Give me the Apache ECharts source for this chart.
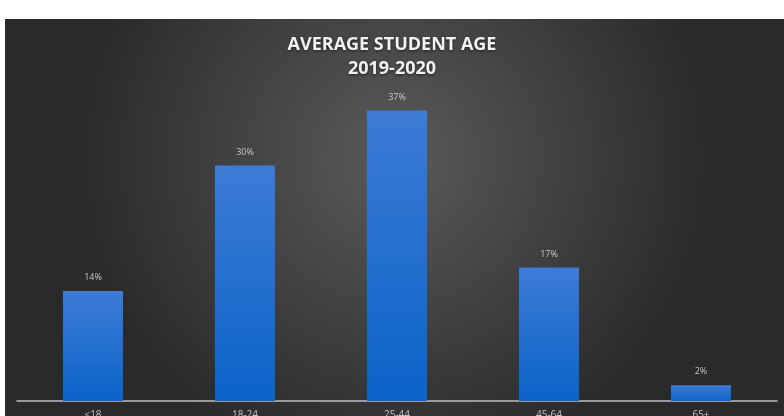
<!DOCTYPE html>
<html>
<head>
<meta charset="utf-8">
<script src="https://cdn.jsdelivr.net/npm/echarts@6/dist/echarts.min.js"></script>
<style>
  html, body { margin: 0; padding: 0; background: #fff; }
  #chart { width: 784px; height: 416px; }
</style>
</head>
<body>
<div id="chart"></div>
<script>
const categories = ['≤18', '18-24', '25-44', '45-64', '65+']
const shares = [14, 30, 37, 17, 2]

const chart = echarts.init(document.getElementById('chart'))

chart.setOption({
  backgroundColor: '#fff',
  animation: false,
  graphic: [{
    type: 'rect',
    shape: { x: 5, y: 19, width: 779, height: 397 },
    style: {
      fill: new echarts.graphic.RadialGradient(0.5, 0.35, 0.8, [
        { offset: 0, color: '#5a5a5a' },
        { offset: 1, color: '#2a2a2a' }
      ])
    },
    z: -10
  }],
  title: {
    text: 'AVERAGE STUDENT AGE\n2019-2020',
    left: 'center',
    top: 28,
    textStyle: {
      fontFamily: 'Open Sans',
      fontWeight: 'bold',
      fontSize: 18,
      lineHeight: 24,
      color: '#f2f2f2',
      textShadowColor: 'rgba(0,0,0,0.6)',
      textShadowBlur: 3,
      textShadowOffsetY: 1
    }
  },
  grid: { left: 17, right: 7, top: 87, bottom: 15, outerBoundsMode: 'none', containLabel: false },
  xAxis: {
    type: 'category',
    data: categories,
    axisLine: { lineStyle: { color: '#bfbfbf', width: 1.5 } },
    axisTick: { show: false },
    axisLabel: {
      color: '#c4c4c4',
      fontSize: 10,
      margin: 9,
      fontFamily: 'Open Sans'
    }
  },
  yAxis: {
    type: 'value',
    min: 0,
    max: 40,
    show: false
  },
  series: [{
    type: 'bar',
    data: shares,
    barWidth: 60,
    itemStyle: {
      color: new echarts.graphic.LinearGradient(0, 0, 0, 1, [
        { offset: 0, color: '#3d7bd6' },
        { offset: 1, color: '#0b63c9' }
      ])
    },
    label: {
      show: true,
      position: 'top',
      distance: 9,
      formatter: '{c}%',
      color: '#c8c8c8',
      fontSize: 9,
      fontFamily: 'Open Sans'
    }
  }]
})
</script>
</body>
</html>
